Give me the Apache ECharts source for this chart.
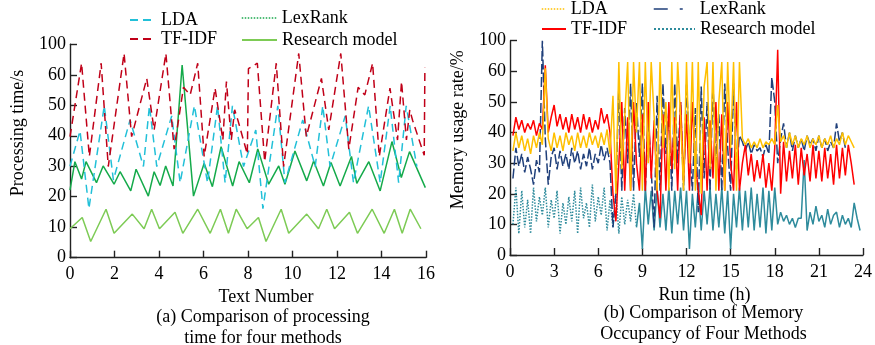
<!DOCTYPE html>
<html>
<head>
<meta charset="utf-8">
<script src="https://cdn.jsdelivr.net/npm/echarts@6/dist/echarts.min.js"></script>
<style>
  html, body { margin: 0; padding: 0; background: #fff; }
  #left { position: absolute; left: 0; top: 0; width: 440px; height: 345px; }
  #right { position: absolute; left: 440px; top: 0; width: 435px; height: 345px; }
</style>
</head>
<body>
<div id="left"></div>
<div id="right"></div>
<script>
// y axes are broken: the top tick (70 on the axis) is labelled 100
const yTickLabels = { 0: '0', 10: '10', 20: '20', 30: '30', 40: '40', 50: '50', 60: '60', 70: '100' }

// (a) processing time, [text number, seconds]
const timeLDA = [[0,30],[0.45,41.6],[0.85,16.1],[1.54,49.8],[1.95,25.5],[2.7,45.2],[3.3,29.9],[3.57,49.8],[3.9,29.9],[4.57,46.5],[4.95,24.6],[5.59,49.8],[6.18,24.6],[6.63,49.8],[6.97,24.6],[7.3,49.8],[7.8,29.9],[8.35,41.9],[8.67,16.1],[9.34,49.8],[9.66,24.6],[10.46,45.2],[11.02,29.9],[11.36,49.8],[11.69,29.9],[12.37,46.5],[12.74,24.6],[13.42,49.8],[13.94,24.6],[14.39,49.8],[14.77,24.6],[15.11,49.8],[15.59,29.9]]
const timeTFIDF = [[0,39.7],[0.52,63.8],[0.87,33.2],[1.4,63.8],[1.72,29.9],[2.43,67],[2.77,39.7],[3.45,58.8],[3.78,41.9],[4.31,67],[4.68,35.6],[5.1,55.9],[5.4,53.4],[5.74,63.8],[6.03,33.2],[6.52,55.6],[6.87,38.6],[7.03,57.8],[7.25,38.6],[7.4,48.5],[7.55,45],[7.97,34],[8.02,62],[8.42,63.8],[8.75,31.5],[9.27,63.8],[9.6,29.9],[10.28,67],[10.62,39.7],[11.3,58.8],[11.63,41.9],[12.17,67],[12.53,35.6],[12.95,55.9],[13.25,53.4],[13.6,63.8],[13.9,33.2],[14.38,55.6],[14.72,38.6],[14.9,57.8],[15.12,38.6],[15.27,48.5],[15.4,45],[15.92,33.6],[15.95,62.3]]
const timeLexRank = [[0,22.2],[0.22,31.5],[0.52,25.8],[0.72,31.5],[1.19,24.6],[1.49,30.1],[1.98,24.1],[2.25,28.2],[2.73,21.9],[2.97,29],[3.52,20.2],[3.78,28.2],[4.05,23.7],[4.3,30.1],[4.63,23.5],[5.04,63.2],[5.55,20.2],[6.03,31],[6.4,23.3],[6.79,36.4],[7.31,23.5],[7.6,31.5],[8.06,24.6],[8.44,35.7],[8.93,24.1],[9.38,30.1],[9.66,24.1],[10.11,35],[10.64,25.2],[10.95,31.7],[11.39,23.5],[11.73,31.2],[12.14,23.5],[12.65,33.2],[12.89,24.4],[13.43,31.5],[13.94,21.9],[14.47,38.1],[14.89,26.3],[15.26,34.8],[15.97,23]]
const timeResearch = [[0,9.5],[0.55,13.2],[0.93,5.3],[1.62,15.9],[1.98,8],[2.8,14.3],[3.33,9.5],[3.67,15.9],[4.02,9.5],[4.72,14.9],[5.07,8],[5.74,15.9],[6.3,8],[6.76,15.9],[7.12,8],[7.47,15.9],[7.96,9.5],[8.47,13.2],[8.81,5.3],[9.49,15.9],[9.83,8],[10.64,14.3],[11.17,9.5],[11.54,15.9],[11.89,9.5],[12.56,14.9],[12.92,8],[13.58,15.9],[14.12,8],[14.58,15.9],[14.93,8],[15.29,15.9],[15.77,9.5]]

// (b) memory occupancy, sampled every 0.2 h
const runHours = [
  0.2,0.4,0.6,0.8,1.0,1.2,1.4,1.6,1.8,2.0,
  2.2,2.4,2.6,2.8,3.0,3.2,3.4,3.6,3.8,4.0,
  4.2,4.4,4.6,4.8,5.0,5.2,5.4,5.6,5.8,6.0,
  6.2,6.4,6.6,6.8,7.0,7.2,7.4,7.6,7.8,8.0,
  8.2,8.4,8.6,8.8,9.0,9.2,9.4,9.6,9.8,10.0,
  10.2,10.4,10.6,10.8,11.0,11.2,11.4,11.6,11.8,12.0,
  12.2,12.4,12.6,12.8,13.0,13.2,13.4,13.6,13.8,14.0,
  14.2,14.4,14.6,14.8,15.0,15.2,15.4,15.6,15.8,16.0,
  16.2,16.4,16.6,16.8,17.0,17.2,17.4,17.6,17.8,18.0,
  18.2,18.4,18.6,18.8,19.0,19.2,19.4,19.6,19.8,20.0,
  20.2,20.4,20.6,20.8,21.0,21.2,21.4,21.6,21.8,22.0,
  22.2,22.4,22.6,22.8,23.0,23.2,23.4,23.6,23.8]
const memLDA = [
  34,40,35,39,34,38,33,39,35,40,
  36,61,38,34,40,35,39,34,40,36,
  39,34,40,35,39,35,40,36,39,35,
  40,36,41,33,52,20,63,28,45,63,
  21,63,40,63,21,63,30,63,45,21,
  63,35,50,21,63,28,63,45,21,63,
  30,63,21,63,20,55,63,28,63,21,
  50,63,21,63,35,63,21,63,38,36,
  38,35,37,35,38,35,37,36,38,36,
  49,37,39,35,40,36,39,35,38,36,
  39,35,38,36,39,35,38,36,39,35,
  38,36,40,36,39,37,35,null,null]
const memTFIDF = [
  39,45,41,44,40,43,41,44,39,43,
  41,62,40,45,49,42,46,41,45,40,
  46,41,45,40,46,41,45,40,44,41,
  48,43,46,40,20,11,30,50,21,45,
  21,50,30,21,46,21,50,25,44,21,
  12,46,21,50,28,45,21,50,24,46,
  21,50,30,21,13,45,21,44,25,50,
  21,46,21,50,30,21,50,21,30,36,
  26,33,24,31,25,33,22,30,21,35,
  67,20,37,24,34,25,36,23,35,26,
  33,24,36,25,34,24,35,25,33,23,
  36,25,35,26,36,30,23,null,null]
const memLexRank = [
  25,35,29,33,27,32,28,23,31,27,
  70,38,23,32,35,28,34,29,33,28,
  35,30,34,28,33,29,35,28,33,30,
  36,31,35,30,9,20,55,21,48,30,
  56,21,50,32,56,21,45,28,9,52,
  21,56,33,47,21,56,30,50,21,56,
  35,21,48,14,55,25,50,21,56,30,
  46,21,56,35,21,56,28,39,37,34,
  37,33,36,34,35,32,36,33,58,50,
  30,38,43,35,40,34,39,35,38,34,
  39,36,38,34,39,35,38,34,37,35,
  43,37,40,35,null,null,null,null,null]
const memResearch = [
  10,22,7,21,9,18,7,22,11,19,
  13,22,9,18,12,21,7,17,10,19,
  11,21,7,22,12,17,9,23,11,19,
  13,22,8,18,9,21,7,19,10,18,
  11,20,9,17,2,22,10,21,8,22,
  9,20,8,22,7,21,10,22,8,21,
  2,20,9,22,8,21,10,22,8,20,
  9,22,7,21,2,20,9,22,8,21,
  9,22,8,20,9,22,7,21,8,22,
  10,14,11,13,10,12,9,12,12,31,
  8,14,10,16,11,13,9,15,10,13,
  14,9,13,10,12,9,17,12,8]
const researchDottedEnd = 42 // the research model line is dotted up to 8.6 h

const serif = 'Liberation Serif, Times New Roman, serif'
const txt = { fontFamily: serif, fontSize: 18, color: '#000' }
const axisLine = { show: true, lineStyle: { color: '#222', width: 1.4 } }
const axisTick = { show: true, inside: true, length: 7, lineStyle: { color: '#222', width: 1.4 } }

const pairs = (ys) => runHours.map((h, i) => [h, ys[i]])

const yAxisFor = (name) => ({
  type: 'value', min: 0, max: 70, interval: 10,
  name, nameLocation: 'middle', nameGap: 43,
  nameTextStyle: { ...txt, padding: [0, 0, 0, 36] },
  axisLine, axisTick, splitLine: { show: false },
  axisLabel: { ...txt, margin: 4, formatter: (v) => yTickLabels[v] }
})
const xAxisFor = (name, max, interval, gap) => ({
  type: 'value', min: 0, max, interval,
  name, nameLocation: 'middle', nameGap: gap,
  nameTextStyle: { ...txt, padding: [0, 0, 0, 36] },
  axisLine, axisTick, splitLine: { show: false },
  axisLabel: { ...txt, margin: 8 }
})
// the line legend draws a circle even with symbol 'none': hide it, keep the line
const legendAt = (name, left, top, width, lineStyle) => ({
  data: [lineStyle ? { name, lineStyle } : name],
  itemStyle: { color: 'rgba(0,0,0,0)', borderWidth: 0, opacity: 0 },
  left, top, itemWidth: width, itemHeight: 10, padding: 0,
  selectedMode: false, textStyle: txt
})
const caption = (lines, x, y) => lines.map((t, i) => ({
  type: 'text', x, y: y + i * 21,
  style: { text: t, align: 'center', verticalAlign: 'middle', font: '18px ' + serif, fill: '#000' }
}))
const line = (name, data, color, type, extra) => ({
  name, type: 'line', data, symbol: 'none', animation: false,
  lineStyle: { color, width: 1.5, type }, itemStyle: { color }, ...extra
})

const leftChart = echarts.init(document.getElementById('left'))
leftChart.setOption({
  animation: false,
  grid: { left: 70, right: 14, top: 44.3, bottom: 87.3 },
  xAxis: xAxisFor('Text Number', 16, 2, 29),
  yAxis: yAxisFor('Processing time/s'),
  legend: [
    legendAt('LDA', 129, 11, 26),
    legendAt('TF-IDF', 129, 30, 26),
    legendAt('LexRank', 241, 9, 35, { type: 'dotted', color: '#1aa84c', width: 1.5 }),
    legendAt('Research model', 241, 31, 35)
  ],
  graphic: caption(['(a) Comparison of processing', 'time for four methods'], 263, 317),
  series: [
    line('Research model', timeResearch, '#7dcb55', 'solid'),
    line('LexRank', timeLexRank, '#14aa4a', 'solid'),
    line('LDA', timeLDA, '#22c0d8', [8, 5]),
    line('TF-IDF', timeTFIDF, '#c00018', [8, 5])
  ]
})

const rightChart = echarts.init(document.getElementById('right'))
const researchPairs = pairs(memResearch)
rightChart.setOption({
  animation: false,
  grid: { left: 70, right: 11, top: 40.7, bottom: 90 },
  xAxis: xAxisFor('Run time (h)', 24, 3, 28),
  yAxis: yAxisFor('Memory usage rate/%'),
  legend: [
    legendAt('LDA', 101, 0, 24, { type: 'dotted', color: '#ffc000', width: 1.5 }),
    legendAt('TF-IDF', 101, 20, 24),
    legendAt('LexRank', 213, 0, 41, { type: [14, 12, 3, 12], color: '#1f3f7a', width: 1.5 }),
    legendAt('Research model', 213, 20, 41)
  ],
  graphic: caption(['(b) Comparison of Memory', 'Occupancy of Four Methods'], 263.5, 313),
  series: [
    line('Research model', researchPairs.slice(0, researchDottedEnd + 1), '#2e8b9c', 'dotted'),
    line('Research model', researchPairs.slice(researchDottedEnd), '#2e8b9c', 'solid'),
    line('LexRank', pairs(memLexRank), '#1f3f7a', [10, 3]),
    line('TF-IDF', pairs(memTFIDF), '#ff0000', 'solid'),
    line('LDA', pairs(memLDA), '#ffc000', 'solid')
  ]
})
</script>
</body>
</html>
